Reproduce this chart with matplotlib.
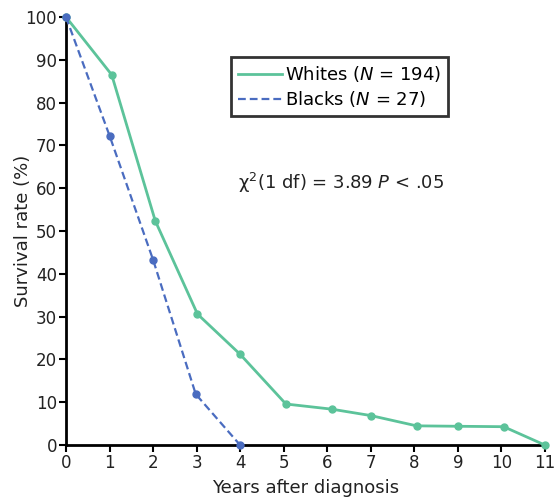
import matplotlib
matplotlib.use("Agg")
import matplotlib.pyplot as plt

plt.rcParams["font.family"] = ["DejaVu Sans"]
plt.rcParams["mathtext.fontset"] = "dejavusans"

years_whites = [0, 1.05, 2.05, 3.02, 4.0, 5.05, 6.1, 7.0, 8.05, 9.0, 10.05, 11.0]
survival_whites = [100, 86.5, 52.4, 30.6, 21.2, 9.6, 8.4, 6.9, 4.5, 4.4, 4.3, 0]
years_blacks = [0, 1.0, 2.0, 2.98, 4.0]
survival_blacks = [100, 72.3, 43.3, 11.9, 0]
x_ticks = list(range(0, 12))
y_ticks = list(range(0, 101, 10))

green = "#5cc39a"
blue = "#4a6cc0"
ink = "#222222"

fig = plt.figure(figsize=(5.59, 4.99), dpi=100)
ax = fig.add_axes([0.118, 0.108, 0.857, 0.858])

ax.plot(years_whites, survival_whites, color=green, lw=2, marker="o", ms=5,
        label=r"Whites ($N$ = 194)", clip_on=False, zorder=3)
ax.plot(years_blacks, survival_blacks, color=blue, lw=1.6, ls=(0, (3.5, 1.8)),
        marker="o", ms=5, label=r"Blacks ($N$ = 27)", clip_on=False, zorder=3)

ax.set_xlim(0, 11)
ax.set_ylim(0, 100)
ax.set_xticks(x_ticks)
ax.set_yticks(y_ticks)
for s in ["top", "right"]:
    ax.spines[s].set_visible(False)
for s in ["left", "bottom"]:
    ax.spines[s].set_linewidth(2)
ax.tick_params(direction="out", length=5, width=1.5, labelsize=12, pad=1.5,
               color="black", labelcolor=ink)
ax.set_xlabel("Years after diagnosis", fontsize=13, labelpad=5, color=ink)
ax.set_ylabel("Survival rate (%)", fontsize=13, labelpad=-5, color=ink)

leg = ax.legend(loc="upper left", bbox_to_anchor=(0.345, 0.906), fontsize=13,
                frameon=True, fancybox=False, handlelength=2.4, handletextpad=0.15,
                borderpad=0.4, labelspacing=0.25, borderaxespad=0)
leg.get_frame().set_edgecolor("black")
leg.get_frame().set_linewidth(2)
for h in leg.legend_handles:
    h.set_marker("")

ax.text(0.574, 0.612, r"χ$^2$(1 df) = 3.89 $P$ < .05", transform=ax.transAxes,
        ha="center", va="center", fontsize=13, color=ink)

fig.savefig("out.png", dpi=100)
